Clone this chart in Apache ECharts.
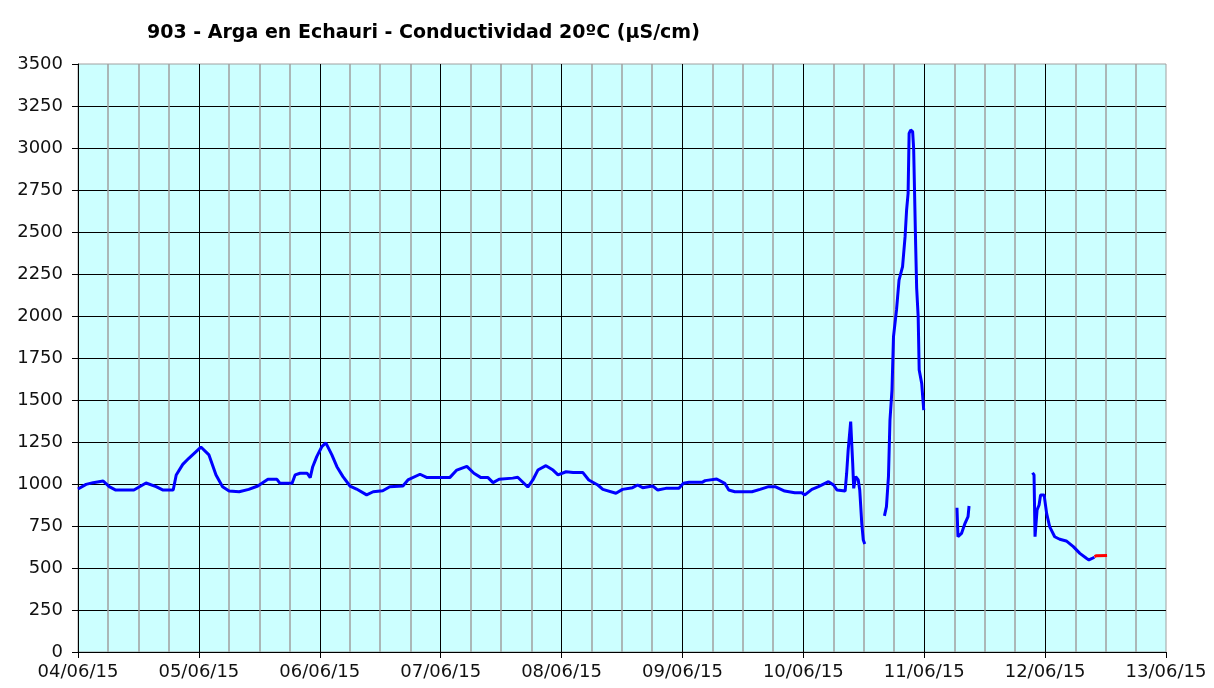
<!DOCTYPE html>
<html>
<head>
<meta charset="utf-8">
<title>903 - Arga en Echauri</title>
<script src="https://cdn.jsdelivr.net/npm/echarts@6/dist/echarts.min.js"></script>
<style>
    html, body { margin: 0; padding: 0; background: #fff; }
    #Conductividad { width: 1214px; height: 688px; }
</style>
</head>
<body>
<div id="Conductividad"></div>
<script>
// etiquetas del eje X (un dia por division)
var dayLabels = ['04/06/15', '05/06/15', '06/06/15', '07/06/15', '08/06/15',
                 '09/06/15', '10/06/15', '11/06/15', '12/06/15', '13/06/15'];

// horas desde 04/06/15 00:00
var horas = [0, 1.6, 3.0, 5.0, 6.2, 7.5, 11.1, 13.5, 15.5, 16.9, 18.9, 19.5, 20.8, 22.0,
    24.4, 26.0, 27.4, 28.7, 30.0, 32.0, 33.9, 35.7, 37.7, 39.5, 40.1, 42.5, 43.1, 44.1, 45.5, 46.1, 46.6, 47.4,
    48.4, 49.2, 50.4, 51.4, 52.6, 54.0, 55.3, 57.3, 58.6, 60.5, 61.9, 64.5, 65.5, 67.9, 69.3,
    73.8, 75.2, 77.2, 78.6, 80.0, 81.4, 82.4, 83.6, 86.3, 87.3, 89.3, 90.3, 91.3, 92.9, 94.3, 95.3,
    96.9, 98.3, 100.2, 101.4, 103.2, 104.2, 106.8, 108.1, 110.1, 111.1, 112.1, 114.1, 115.1, 116.7,
    119.3, 120.2, 121.3, 123.9, 124.5, 126.8, 128.4, 129.2, 130.4, 133.8, 135.4, 137.1, 138.4, 140.3,
    142.3, 143.7, 144.3, 145.7, 147.0, 149.0, 150.0, 150.7, 152.3, 152.6, 152.9, 153.4, 153.8, 154.0,
    154.4, 154.9, 155.2, 155.6, 155.9, 156.2,
    158,
    160.1, 160.5, 160.9, 161.2, 161.6, 161.9, 162.5, 163.0, 163.7, 164.2, 164.5, 164.8, 165.0, 165.3,
    165.7, 165.9, 166.3, 166.5, 166.8, 167.0, 167.5, 167.9,
    170,
    174.5, 174.7, 175.4, 176.1, 176.7, 176.9,
    180,
    189.5, 189.8, 190.0, 190.4, 190.8, 191.1, 191.8, 192.3, 192.9, 193.9, 194.9, 196.2, 197.6, 198.9,
    200.2, 200.7, 201.8];

// conductividad 20ºC (µS/cm), null = sin dato
var conductividad = [970, 998, 1008, 1018, 984, 964, 964, 1006, 984, 964, 964, 1054, 1117, 1153,
    1220, 1173, 1054, 984, 958, 954, 968, 988, 1028, 1028, 1004, 1004, 1054, 1064, 1064, 1038, 1103, 1163,
    1222, 1245, 1173, 1103, 1044, 988, 970, 935, 954, 960, 984, 988, 1024, 1058, 1038,
    1038, 1083, 1105, 1064, 1038, 1038, 1008, 1028, 1035, 1040, 982, 1024, 1083, 1109, 1083, 1054,
    1073, 1069, 1069, 1024, 994, 968, 945, 968, 978, 994, 978, 988, 964, 974,
    974, 1004, 1010, 1010, 1020, 1030, 1004, 964, 954, 954, 968, 984, 984, 958,
    948, 948, 935, 968, 984, 1014, 994, 964, 958, 1064, 1202, 1371, 1123, 974,
    1044, 1024, 964, 766, 667, 643,
    null,
    810, 865, 1044, 1381, 1560, 1877, 2036, 2214, 2294, 2472, 2631, 2730, 3087, 3107,
    3097, 2998, 2423, 2165, 1996, 1679, 1599, 1440,
    null,
    859, 686, 706, 766, 806, 869,
    null,
    1067, 1054, 686, 845, 875, 935, 935, 825, 746, 686, 671, 661, 627, 587,
    558, 548, 564];

// tramo final en rojo
var horasRojo = [201.8, 202.2, 204.3];
var conductividadRojo = [568, 573, 575];

function pares(xs, ys) {
    var d = [];
    for (var i = 0; i < xs.length; i++) {
        d.push([xs[i], ys[i] === null ? '-' : ys[i]]);
    }
    return d;
}

function LoadConductividad() {
    var myChart = echarts.init(document.getElementById('Conductividad'));
    var option = {
        backgroundColor: '#ffffff',
        animation: false,
        title: {
            text: '903 - Arga en Echauri - Conductividad 20ºC (µS/cm)',
            left: 142,
            top: 19,
            textStyle: {
                fontFamily: 'DejaVu Sans',
                fontWeight: 'bold',
                fontSize: 19,
                color: '#000'
            }
        },
        grid: {
            left: 78,
            right: 48,
            top: 64,
            bottom: 36,
            show: true,
            backgroundColor: '#CCFFFF',
            borderColor: '#a0a0a0',
            borderWidth: 1
        },
        xAxis: {
            type: 'value',
            min: 0,
            max: 216,
            interval: 24,
            axisLine: { lineStyle: { color: '#000', width: 1 } },
            axisTick: { show: true, length: 6, lineStyle: { color: '#000' } },
            axisLabel: {
                margin: 11,
                fontFamily: 'DejaVu Sans',
                fontSize: 18,
                color: '#111',
                formatter: function (v) { return dayLabels[Math.round(v / 24)]; }
            },
            splitLine: { show: true, showMinLine: false, showMaxLine: false, lineStyle: { color: '#000', width: 1 } },
            minorTick: { show: false, splitNumber: 4 },
            minorSplitLine: { show: true, lineStyle: { color: '#a0a0a0', width: 1.5 } }
        },
        yAxis: {
            type: 'value',
            min: 0,
            max: 3500,
            interval: 250,
            axisLine: { show: true, lineStyle: { color: '#000', width: 1 } },
            axisTick: { show: true, length: 6, lineStyle: { color: '#000' } },
            axisLabel: {
                margin: 15,
                fontFamily: 'DejaVu Sans',
                fontSize: 18,
                color: '#111',
                formatter: function (v) { return String(v); }
            },
            splitLine: { show: true, showMaxLine: false, lineStyle: { color: '#000', width: 1 } }
        },
        series: [{
            name: 'Conductividad',
            type: 'line',
            data: pares(horas, conductividad),
            showSymbol: false,
            connectNulls: false,
            lineStyle: { color: '#0000FF', width: 3 },
            itemStyle: { color: '#0000FF' }
        }, {
            name: 'Conductividad (rojo)',
            type: 'line',
            data: pares(horasRojo, conductividadRojo),
            showSymbol: false,
            lineStyle: { color: '#FF0000', width: 3 },
            itemStyle: { color: '#FF0000' }
        }]
    };
    myChart.setOption(option);
}

LoadConductividad();
</script>
</body>
</html>
